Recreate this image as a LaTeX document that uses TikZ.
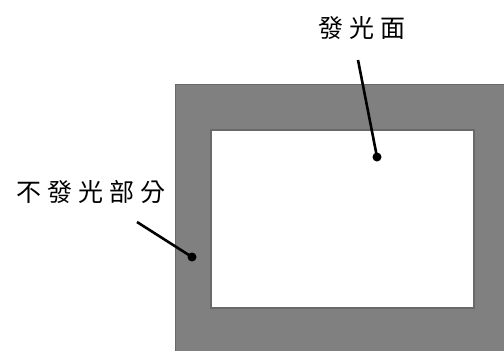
\documentclass[tikz,border=0pt]{standalone}
\usepackage{fontspec}
\newfontfamily\cjk{Noto Sans CJK TC}
\definecolor{panelgray}{RGB}{128,128,128}
\definecolor{edgegray}{RGB}{105,105,105}
\tikzset{
  lbl/.style={font=\cjk\fontsize{25}{28}\selectfont, inner sep=0pt, text=black},
  leader/.style={line width=2.6pt, black},
  dotmark/.style={circle, fill=black, inner sep=0pt, minimum size=9pt},
}
\newcommand{\gp}{\hspace{6pt}}
\begin{document}
\begin{tikzpicture}[x=1pt,y=-1pt]
\useasboundingbox (0,0) rectangle (504,351);
\fill[white] (0,0) rectangle (504,351);
\fill[panelgray, draw=edgegray, line width=1pt] (175.5,84.5) rectangle (510,360);
\fill[white, draw=edgegray, line width=1.2pt] (211,130) rectangle (474,308);
\node[lbl] (top) at (362,28) {發\gp 光\gp 面};
\node[lbl] (left) at (91,192) {不\gp 發\gp 光\gp 部\gp 分};
\node[dotmark] (d1) at (377,157) {};
\node[dotmark] (d2) at (192,257) {};
\coordinate (s1) at (358,60);
\coordinate (s2) at (137,222);
\draw[leader] (s1) -- (d1.center);
\draw[leader] (s2) -- (d2.center);
\end{tikzpicture}
\end{document}
